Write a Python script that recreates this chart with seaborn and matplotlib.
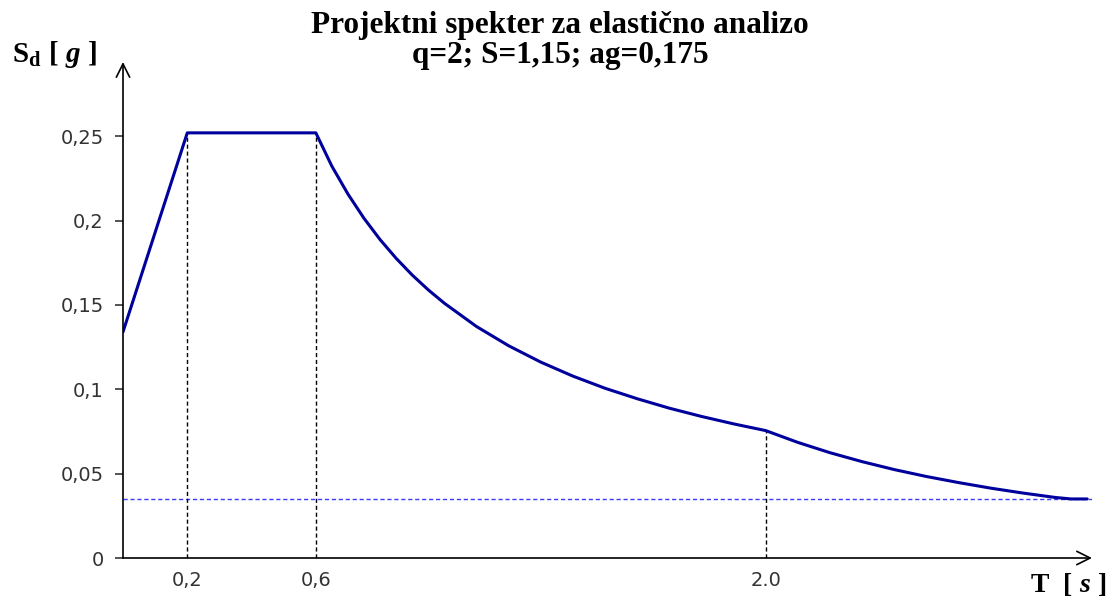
import pandas as pd
import seaborn as sns
import matplotlib.pyplot as plt

# design spectrum (T in s, Sd in g)
period = [0.0, 0.2, 0.6, 0.65, 0.7, 0.75, 0.8, 0.85, 0.9, 0.95, 1.0, 1.1, 1.2, 1.3,
          1.4, 1.5, 1.6, 1.7, 1.8, 1.9, 2.0, 2.1, 2.2, 2.3, 2.4, 2.5, 2.6, 2.7,
          2.8, 2.9, 2.95, 3.0]
sd = [0.134, 0.252, 0.252, 0.2322, 0.2157, 0.2013, 0.1887, 0.1776, 0.1677, 0.1589,
      0.1510, 0.1372, 0.1258, 0.1161, 0.1078, 0.1006, 0.0944, 0.0888, 0.0839,
      0.0795, 0.0755, 0.0685, 0.0624, 0.0571, 0.0524, 0.0483, 0.0447, 0.0414,
      0.0385, 0.0359, 0.035, 0.035]
lower_bound = 0.035
marks_t = [0.2, 0.6, 2.0]
marks_sd = [0.252, 0.252, 0.0755]
x_labels = ["0,2", "0,6", "2.0"]
y_ticks = [0, 0.05, 0.1, 0.15, 0.2, 0.25]
y_labels = ["0", "0,05", "0,1", "0,15", "0,2", "0,25"]

sns.set_style("white")
plt.rcParams["font.family"] = ["DejaVu Sans"]
plt.rcParams["mathtext.fontset"] = "custom"
plt.rcParams["mathtext.rm"] = "Liberation Serif:bold"
plt.rcParams["mathtext.it"] = "Liberation Serif:italic:bold"
plt.rcParams["mathtext.bf"] = "Liberation Serif:bold"

df = pd.DataFrame({"T": period, "Sd": sd})

fig = plt.figure(figsize=(11.1, 5.98), dpi=100)
ax = fig.add_axes([123 / 1110, 40 / 598, (1092 - 123) / 1110, 496 / 598])

# dashed guides
ax.axhline(lower_bound, color="#3b3bff", lw=1, ls=(0, (3, 2)), zorder=1)
for t, v in zip(marks_t, marks_sd):
    ax.plot([t, t], [0, v], color="black", lw=1, ls=(0, (3, 2)), zorder=1)

sns.lineplot(data=df, x="T", y="Sd", color="#00009c", lw=2.2, ax=ax, zorder=3)

ax.set_xlim(0, 3.015)
ax.set_ylim(0, 0.294)
ax.set_xticks(marks_t)
ax.set_xticklabels(x_labels)
ax.set_yticks(y_ticks)
ax.set_yticklabels(y_labels)
ax.tick_params(axis="x", length=0, pad=9, labelsize=14, labelcolor="#333333")
ax.tick_params(axis="y", length=6, width=1.1, direction="out", pad=8,
               labelsize=14, labelcolor="#333333", left=True)
ax.set_xlabel("")
ax.set_ylabel("")
for s in ax.spines.values():
    s.set_visible(False)

# axes with open arrow heads
ax.annotate("", xy=(1, 0), xytext=(0, 0), xycoords="axes fraction",
            arrowprops=dict(arrowstyle="->", lw=1.2, color="black",
                            mutation_scale=24, shrinkA=0, shrinkB=0))
ax.annotate("", xy=(0, 1), xytext=(0, 0), xycoords="axes fraction",
            arrowprops=dict(arrowstyle="->", lw=1.2, color="black",
                            mutation_scale=24, shrinkA=0, shrinkB=0))

fig.text(560 / 1110, 1 - 25 / 598, "Projektni spekter za elastično analizo",
         family="Liberation Serif", weight="bold", size=22.5, color="black",
         ha="center", va="center")
fig.text(560 / 1110, 1 - 56 / 598, "q=2; S=1,15; ag=0,175",
         family="Liberation Serif", weight="bold", size=22.5, color="black",
         ha="center", va="center")
fig.text(12 / 1110, 1 - 54 / 598, r"$\mathrm{S}_\mathrm{d}\ [\ g\ ]$",
         size=21, color="black", ha="left", va="center")
fig.text(1030 / 1110, 1 - 584 / 598, r"$\mathrm{T}\ \ [\ s\ ]$",
         size=20, color="black", ha="left", va="center")

fig.savefig("out.png", dpi=100)
